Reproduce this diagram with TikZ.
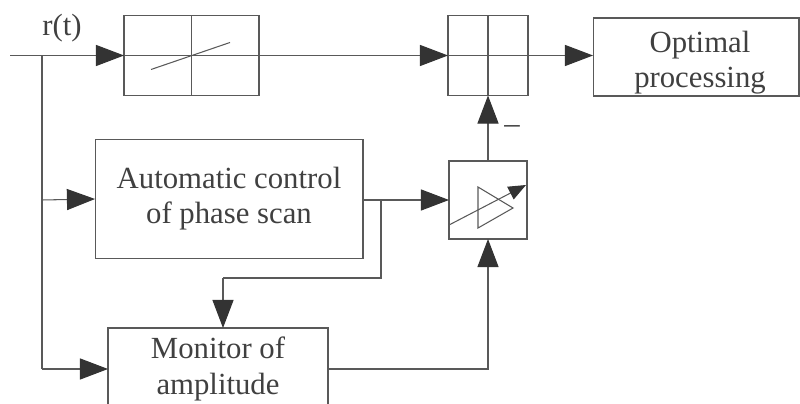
\documentclass[tikz,border=0pt]{standalone}
\usepackage{fontspec}
\setmainfont{Liberation Serif}
\usetikzlibrary{arrows.meta}
\begin{document}
\begin{tikzpicture}[x=0.02cm,y=-0.02cm,
  every node/.style={inner sep=0pt,outer sep=0pt},
  box/.style={draw=black!65,line width=0.6pt,align=center,text=black!75,
    font=\fontsize{17.5}{20}\selectfont},
  txt/.style={align=center,text=black!75,font=\fontsize{17.5}{20}\selectfont},
  wire/.style={draw=black!65,line width=0.6pt},
  arr/.style={wire,-{Triangle[length=16pt,width=12pt,fill=black!80,color=black!80]}},
  smallarr/.style={wire,-{Triangle[length=10pt,width=8pt,fill=black!80,color=black!80]}},
  lbl/.style={text=black!75,font=\fontsize{17.5}{20}\selectfont}]
\useasboundingbox (0,0) rectangle (800,404);
\clip (0,0) rectangle (800,404);
% blocks
\node[box,minimum width=2.7cm,minimum height=1.6cm] (lim) at (191.5,55.5) {};
\node[box,minimum width=1.6cm,minimum height=1.6cm] (sum) at (488,55.5) {};
\node[box,minimum width=4.12cm,minimum height=1.56cm] (opt) at (696,57) {};
\node[txt] (optlbl) at (700,63) {Optimal\\processing};
\node[box,minimum width=5.36cm,minimum height=2.38cm] (auto) at (229,199) {Automatic control\\of phase scan};
\node[box,minimum width=1.56cm,minimum height=1.56cm] (amp) at (488,200) {};
\node[box,minimum width=4.4cm,minimum height=1.64cm] (mon) at (218,369) {Monitor of\\amplitude};
\node[lbl] (rt) at (62,28) {r(t)};
\node[lbl] (minus) at (512,130) {–};
% block internals
\draw[wire] (lim.north) -- (lim.south);
\draw[wire] (lim.west) -- (lim.east);
\draw[wire] (151,69.5) -- (230,42.5);
\draw[wire] (sum.north) -- (sum.south);
\draw[wire] (sum.west) -- (sum.east);
\draw[wire] (478,187) -- (478,228) -- (513,208) -- cycle;
\draw[smallarr] (amp.west |- 0,225) -- (526,185);
% coordinates
\coordinate (in) at (10,55.5);
\coordinate (j1) at (42,55.5);
\coordinate (j2) at (42,200);
\coordinate (j3) at (42,369);
\coordinate (b1) at (381,200);
\coordinate (c2) at (223,278);
% connectors
\draw[arr] (in) -- (lim.west);
\draw[arr] (lim.east) -- (sum.west);
\draw[arr] (sum.east) -- (sum.east -| opt.west);
\draw[wire] (j1) -- (j3);
\draw[arr] (j2) -- (auto.west);
\draw[arr] (j3) -- (mon.west);
\draw[arr] (auto.east |- b1) -- (amp.west);
\draw[wire] (b1) |- (c2);
\draw[arr] (c2) -- (c2 |- mon.north);
\draw[arr] (mon.east) -| (amp.south);
\draw[arr] (amp.north) -- (sum.south);
\end{tikzpicture}
\end{document}
